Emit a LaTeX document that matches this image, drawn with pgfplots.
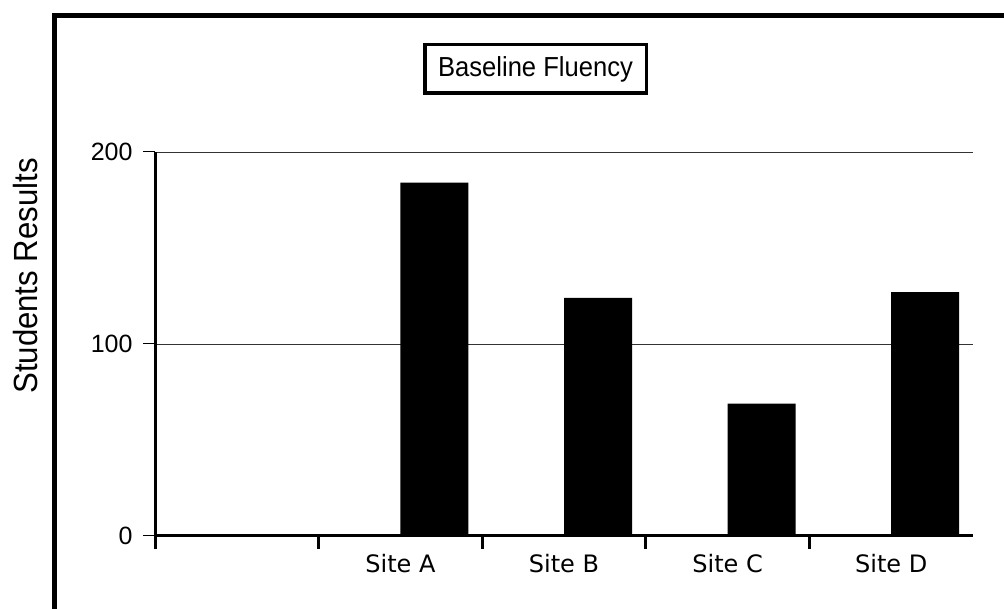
\documentclass[border=0pt]{standalone}
\usepackage{pgfplots}
\pgfplotsset{compat=1.18}
\usepackage{fontspec}
\setmainfont{Liberation Sans}
\newfontfamily\condfont[FakeStretch=0.93]{Liberation Sans}
\newfontfamily\genevafont{DejaVu Sans}
\begin{document}
\begin{tikzpicture}[x=1bp,y=1bp]
\useasboundingbox (0,0) rectangle (1004,609);
\draw[line width=5bp, line join=miter] (54.8,0) -- (54.8,593.7) -- (1004,593.7);
\node[draw, line width=3.5bp, minimum width=221.5bp, minimum height=48.5bp, inner sep=0pt,
      font=\condfont\fontsize{27.5bp}{32bp}\selectfont] at (535.5,540) {Baseline Fluency};
\node[rotate=90, inner sep=0pt, font=\condfont\fontsize{33.5bp}{38bp}\selectfont] at (26,333) {Students Results};
\begin{axis}[
  at={(155bp,73bp)}, anchor=south west, scale only axis,
  width=818bp, height=384bp,
  xmin=0, xmax=5, ymin=0, ymax=200,
  axis x line*=bottom, axis y line*=left,
  axis line style={-, line width=3bp},
  ytick={0,100,200},
  xtick={1.5,2.5,3.5,4.5},
  xticklabels={Site A,Site B,Site C,Site D},
  minor xtick={0,1,2,3,4},
  tick align=outside,
  major tick length=12bp,
  minor tick length=13bp,
  major x tick style={draw=none},
  minor x tick style={line width=3bp, black},
  y tick style={line width=1bp, black},
  ymajorgrids,
  grid style={black!80, line width=0.9bp},
  xticklabel style={font=\genevafont\fontsize{24bp}{28bp}\selectfont, yshift=-3bp},
  yticklabel style={font=\fontsize{25bp}{28bp}\selectfont, xshift=-7bp},
  /pgf/number format/assume math mode=true,
]
\addplot[ybar, bar width=68bp, bar shift=34bp, fill=black, draw=none]
  coordinates {(1.5,184) (2.5,124) (3.5,69) (4.5,127)};
\end{axis}
\end{tikzpicture}
\end{document}
